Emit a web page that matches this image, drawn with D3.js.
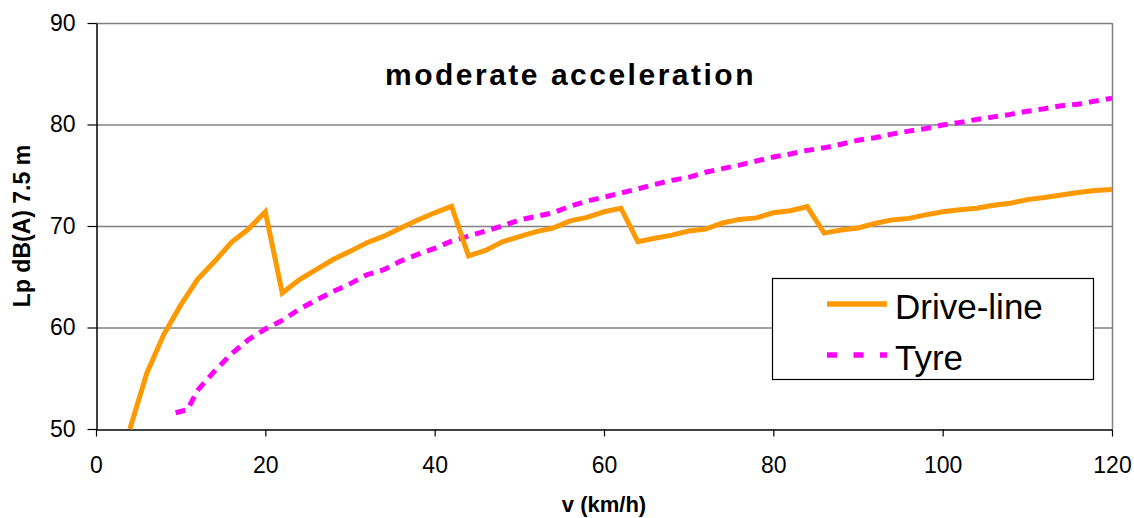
<!DOCTYPE html>
<html>
<head>
<meta charset="utf-8">
<script src="https://cdn.jsdelivr.net/npm/d3@7"></script>
<style>
  body { margin: 0; background: #fff; }
  svg { font-family: "Liberation Sans", Arial, sans-serif; }
</style>
</head>
<body>
<svg id="chart" width="1134" height="518"></svg>
<script>
const title = "moderate acceleration";
const xTitle = "v (km/h)";
const yTitle = "Lp dB(A) 7.5 m";
const seriesNames = [ "Drive-line", "Tyre" ];

const xTicks = [ 0, 20, 40, 60, 80, 100, 120 ];
const yTicks = [ 50, 60, 70, 80, 90 ];

const driveSpeeds = [ 4, 6, 8, 10, 12, 14, 16, 18, 20, 22, 24, 26, 28, 30, 32, 34, 36, 38, 40, 42, 44, 46, 48, 50, 52, 54, 56, 58, 60, 62,
  64, 66, 68, 70, 72, 74, 76, 78, 80, 82, 84, 86, 88, 90, 92, 94, 96, 98, 100, 102, 104, 106, 108, 110, 112, 114, 116, 118, 120 ];
const driveLevels = [ 50.0, 55.5, 59.3, 62.2, 64.75, 66.5, 68.4, 69.7, 71.4, 63.4, 64.7, 65.7, 66.7, 67.5, 68.35, 69.0, 69.8, 70.6, 71.3, 71.95,
  67.05, 67.6, 68.45, 68.95, 69.45, 69.8, 70.5, 70.85, 71.4, 71.75, 68.45, 68.8, 69.1, 69.5, 69.7, 70.3, 70.65, 70.8, 71.3, 71.5, 71.9,
  69.3, 69.6, 69.8, 70.25, 70.6, 70.75, 71.1, 71.4, 71.6, 71.75, 72.05, 72.25, 72.6, 72.8, 73.05, 73.3, 73.5, 73.6 ];

const tyreSpeeds = [ 9.4, 10.8, 12, 14, 16, 18, 20, 22, 24, 26, 28, 30, 32, 34, 36, 38, 40, 42, 44, 46, 48, 50, 52, 54, 56, 58, 60, 62,
  64, 66, 68, 70, 72, 74, 76, 78, 80, 82, 84, 86, 88, 90, 92, 94, 96, 98, 100, 102, 104, 106, 108, 110, 112, 114, 116, 118, 120 ];
const tyreLevels = [ 51.6, 51.9, 53.8, 55.7, 57.4, 58.8, 59.85, 60.7, 61.8, 62.7, 63.55, 64.3, 65.2, 65.7, 66.55, 67.2, 67.8, 68.5, 69.0,
  69.5, 70.0, 70.6, 70.95, 71.3, 71.95, 72.45, 72.85, 73.25, 73.65, 74.1, 74.5, 74.8, 75.3, 75.65, 76.0, 76.4, 76.8, 77.1, 77.45, 77.7,
  78.05, 78.45, 78.7, 79.05, 79.35, 79.6, 79.95, 80.2, 80.5, 80.75, 81.0, 81.3, 81.55, 81.85, 82.0, 82.3, 82.6 ];

const svg = d3.select( "#chart" );
const WIDTH = 1134;
const HEIGHT = 518;
const MARGINS = {
  top   : 23,
  right : 22,
  bottom: 89,
  left  : 96,
};

const xScale = d3.scaleLinear()
  .domain( [ 0, 120 ] )
  .range( [ MARGINS.left, WIDTH - MARGINS.right ] );
const yScale = d3.scaleLinear()
  .domain( [ 50, 90 ] )
  .range( [ HEIGHT - MARGINS.bottom, MARGINS.top ] );

// gridlines + right border of the plot area
svg.append( "g" )
  .selectAll( "line" )
  .data( yTicks.slice( 1 ) )
  .enter()
  .append( "line" )
  .attr( "x1", MARGINS.left )
  .attr( "x2", WIDTH - MARGINS.right )
  .attr( "y1", d => yScale( d ) + 0.5 )
  .attr( "y2", d => yScale( d ) + 0.5 )
  .attr( "stroke", "#808080" )
  .attr( "stroke-width", 1.5 );

svg.append( "line" )
  .attr( "x1", WIDTH - MARGINS.right + 0.5 )
  .attr( "x2", WIDTH - MARGINS.right + 0.5 )
  .attr( "y1", yScale( 90 ) )
  .attr( "y2", yScale( 50 ) )
  .attr( "stroke", "#808080" )
  .attr( "stroke-width", 1.5 );

const xAxis = d3.axisBottom( xScale ).tickValues( xTicks ).tickSize( 7 ).tickSizeOuter( 0 ).tickPadding( 20 );
const yAxis = d3.axisLeft( yScale ).tickValues( yTicks ).tickSize( 9 ).tickSizeOuter( 0 ).tickPadding( 12 );

const gx = svg.append( "g" )
  .attr( "transform", `translate(0,${yScale( 50 ) + 0.5})` )
  .call( xAxis );
const gy = svg.append( "g" )
  .attr( "transform", `translate(${MARGINS.left + 0.5},0)` )
  .call( yAxis );

[ gx, gy ].forEach( g => {
  g.select( ".domain" ).attr( "stroke", "#000" ).attr( "stroke-width", 1.5 );
  g.selectAll( ".tick line" ).attr( "stroke", "#000" ).attr( "stroke-width", 1.2 );
  g.selectAll( ".tick text" )
    .attr( "fill", "#000" )
    .style( "font-family", "\"Liberation Sans\", Arial, sans-serif" )
    .style( "font-size", "23px" );
} );

// series
const line = d3.line()
  .x( d => xScale( d[0] ) )
  .y( d => yScale( d[1] ) );

const tyreData = tyreSpeeds.map( ( s, i ) => [ s, tyreLevels[i] ] );
const driveData = driveSpeeds.map( ( s, i ) => [ s, driveLevels[i] ] );

svg.append( "path" )
  .attr( "d", line( tyreData ) )
  .attr( "fill", "none" )
  .attr( "stroke", "#ff00ff" )
  .attr( "stroke-width", 5 )
  .attr( "stroke-dasharray", "10,7" );

svg.append( "path" )
  .attr( "d", line( driveData ) )
  .attr( "fill", "none" )
  .attr( "stroke", "#ff9900" )
  .attr( "stroke-width", 5 )
  .attr( "stroke-linejoin", "miter" );

// title + axis titles
svg.append( "text" )
  .attr( "x", 385 )
  .attr( "y", 85 )
  .style( "font-size", "30px" )
  .style( "font-weight", "bold" )
  .style( "letter-spacing", "2.5px" )
  .text( title );

svg.append( "text" )
  .attr( "x", xScale( 60 ) )
  .attr( "y", 512 )
  .attr( "text-anchor", "middle" )
  .style( "font-size", "22px" )
  .style( "font-weight", "bold" )
  .text( xTitle );

svg.append( "text" )
  .attr( "transform", `translate(30,${( yScale( 50 ) + yScale( 90 ) ) / 2}) rotate(-90)` )
  .attr( "text-anchor", "middle" )
  .style( "font-size", "23px" )
  .style( "font-weight", "bold" )
  .text( yTitle );

// legend
const legend = svg.append( "g" );
legend.append( "rect" )
  .attr( "x", 772.5 )
  .attr( "y", 278.5 )
  .attr( "width", 321 )
  .attr( "height", 101 )
  .attr( "fill", "#fff" )
  .attr( "stroke", "#000" )
  .attr( "stroke-width", 1.2 );

const legendStyles = [
  { color: "#ff9900", dash: null, y: 304 },
  { color: "#ff00ff", dash: "10,16.5", y: 355 },
];

seriesNames.forEach( ( name, i ) => {
  const st = legendStyles[i];
  legend.append( "line" )
    .attr( "x1", 827 )
    .attr( "x2", 887 )
    .attr( "y1", st.y )
    .attr( "y2", st.y )
    .attr( "stroke", st.color )
    .attr( "stroke-width", 5.5 )
    .attr( "stroke-dasharray", st.dash );
  legend.append( "text" )
    .attr( "x", 895 )
    .attr( "y", st.y + 15 )
    .style( "font-size", "35px" )
    .text( name );
} );
</script>
</body>
</html>
